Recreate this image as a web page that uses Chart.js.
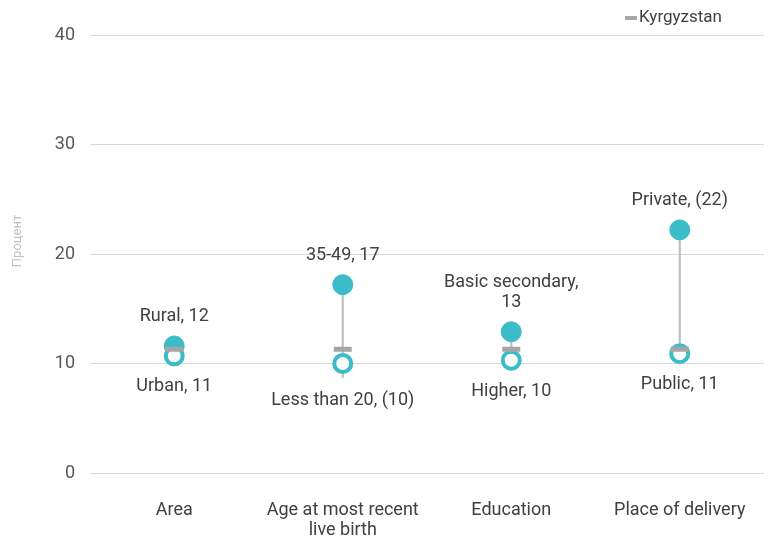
<!DOCTYPE html>
<html>
<head>
<meta charset="utf-8">
<script src="https://cdn.jsdelivr.net/npm/chart.js@4"></script>
<style>
  html,body{margin:0;padding:0;background:#fff;}
  #wrap{width:773px;height:537px;}
</style>
</head>
<body>
<div id="wrap"><canvas id="c" width="773" height="537"></canvas></div>
<script>
const categories = ["Area", ["Age at most recent", "live birth"], "Education", "Place of delivery"];
const highValues = [11.6, 17.2, 12.9, 22.2];
const lowValues = [10.7, 10.0, 10.3, 10.9];
const nationalValues = [11.3, 11.3, 11.3, 11.3];
const rangeLow = [10.7, 8.7, 10.3, 10.9];
const rangeHigh = [11.6, 17.2, 12.9, 22.2];
const highLabels = [["Rural, 12"], ["35-49, 17"], ["Basic secondary,", "13"], ["Private, (22)"]];
const lowLabels = [["Urban, 11"], ["Less than 20, (10)"], ["Higher, 10"], ["Public, 11"]];
const yTicks = [0, 10, 20, 30, 40];
const seriesName = "Kyrgyzstan";
const axisTitle = "Процент";

const TEAL = "#3BBCC9";
const GREY = "#A6A6A6";
const FONT = "Roboto, 'Liberation Sans', sans-serif";

const labelPlugin = {
  id: "labels",
  afterDatasetsDraw(chart) {
    const ctx = chart.ctx;
    const hi = chart.getDatasetMeta(2).data;
    const lo = chart.getDatasetMeta(3).data;
    ctx.save();
    ctx.font = "18px " + FONT;
    ctx.fillStyle = "#404040";
    ctx.textAlign = "center";
    ctx.textBaseline = "middle";
    hi.forEach((p, i) => {
      const lines = highLabels[i];
      lines.forEach((t, k) => {
        ctx.fillText(t, p.x, p.y - 29 - (lines.length - 1 - k) * 20);
      });
    });
    lo.forEach((p, i) => {
      const lines = lowLabels[i];
      const extra = rangeLow[i] < lowValues[i] - 0.5 ? 6 : 0;
      lines.forEach((t, k) => {
        ctx.fillText(t, p.x, p.y + 31 + extra + k * 20);
      });
    });
    // legend
    ctx.strokeStyle = GREY;
    ctx.lineWidth = 4;
    ctx.beginPath();
    ctx.moveTo(625, 18);
    ctx.lineTo(637, 18);
    ctx.stroke();
    ctx.textAlign = "left";
    ctx.font = "17px " + FONT;
    ctx.fillStyle = "#404040";
    ctx.fillText(seriesName, 639, 18);
    // axis title
    ctx.translate(18, 241);
    ctx.rotate(-Math.PI / 2);
    ctx.textAlign = "center";
    ctx.font = "13px " + FONT;
    ctx.fillStyle = "#BFBFBF";
    ctx.fillText(axisTitle, 0, 0);
    ctx.restore();
  }
};

new Chart(document.getElementById("c"), {
  type: "bar",
  data: {
    labels: categories,
    datasets: [
      {
        type: "bar",
        label: "range",
        data: rangeLow.map((v, i) => [v, rangeHigh[i]]),
        backgroundColor: "#BFBFBF",
        borderWidth: 0,
        barThickness: 1.5,
        order: 4
      },
      {
        type: "line",
        label: seriesName,
        data: nationalValues,
        showLine: false,
        pointStyle: "line",
        pointRadius: 9,
        borderWidth: 5,
        borderColor: GREY,
        backgroundColor: GREY,
        order: 1
      },
      {
        type: "line",
        label: "high",
        data: highValues,
        showLine: false,
        pointStyle: "circle",
        pointRadius: 10,
        borderWidth: 1,
        borderColor: TEAL,
        backgroundColor: TEAL,
        order: 3
      },
      {
        type: "line",
        label: "low",
        data: lowValues,
        showLine: false,
        pointStyle: "circle",
        pointRadius: 8.5,
        borderWidth: 4,
        borderColor: TEAL,
        backgroundColor: "#FFFFFF",
        order: 2
      }
    ]
  },
  options: {
    responsive: false,
    animation: false,
    events: [],
    layout: { autoPadding: false, padding: { top: 35, right: 9, bottom: 0, left: 0 } },
    plugins: { legend: { display: false }, tooltip: { enabled: false } },
    scales: {
      x: {
        offset: true,
        grid: { display: false, drawTicks: false },
        border: { display: false },
        ticks: { color: "#404040", font: { size: 18, family: FONT, lineHeight: 1.1 }, padding: 28, maxRotation: 0, autoSkip: false },
        afterFit(s) { s.height = 64; s.paddingLeft = 0; s.paddingRight = 0; }
      },
      y: {
        min: 0, max: 40,
        afterBuildTicks(s) { s.ticks = yTicks.map(v => ({ value: v })); },
        grid: { color: "#D9D9D9", drawTicks: false, lineWidth: 1 },
        border: { display: false },
        ticks: { color: "#595959", font: { size: 18, family: FONT }, padding: 15 },
        afterFit(s) { s.width = 90; }
      }
    }
  },
  plugins: [labelPlugin]
});
</script>
</body>
</html>
